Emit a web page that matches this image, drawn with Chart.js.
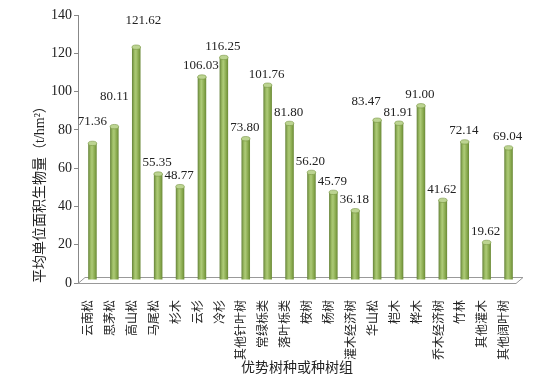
<!DOCTYPE html>
<html>
<head>
<meta charset="utf-8">
<script src="https://cdn.jsdelivr.net/npm/chart.js@4/dist/chart.umd.min.js"></script>
<style>
  body { margin: 0; background: #fff; }
  #wrap { width: 556px; height: 377px; }
</style>
</head>
<body>
<div id="wrap"><canvas id="bioChart" width="556" height="377"></canvas></div>
<script>
// dominant species / groups
const categories = ['云南松', '思茅松', '高山松', '马尾松', '杉木', '云杉', '冷杉', '其他针叶树',
  '常绿栎类', '落叶栎类', '桉树', '杨树', '灌木经济树', '华山松', '桤木', '桦木',
  '乔木经济树', '竹林', '其他灌木', '其他阔叶树'];
// average biomass per unit area (t/hm2)
const biomass = [71.36, 80.11, 121.62, 55.35, 48.77, 106.03, 116.25, 73.80,
  101.76, 81.80, 56.20, 45.79, 36.18, 83.47, 81.91, 91.00, 41.62, 72.14, 19.62, 69.04];
const yTicks = [0, 20, 40, 60, 80, 100, 120, 140];

const serif = '"Liberation Serif", "Noto Sans CJK SC", serif';
const barPct = 0.39;
// 3d depth of the floor, bars sit halfway in
const depth = { dx: 7, dy: -6 };

// a few value labels were moved by hand in the original
const labelNudge = { 0: [1, -11], 1: [1, -19], 2: [8, -16], 13: [-10, -8] };

function barFill(c) {
  const chart = c.chart;
  const xs = chart.scales.x;
  if (!chart.chartArea || !xs) return '#9bbb59';
  const cx = xs.getPixelForValue(c.dataIndex);
  const hw = xs.width / categories.length * barPct / 2;
  const g = chart.ctx.createLinearGradient(cx - hw, 0, cx + hw, 0);
  g.addColorStop(0, '#66833a');
  g.addColorStop(0.3, '#9fbf66');
  g.addColorStop(0.45, '#acc977');
  g.addColorStop(0.75, '#8aab4f');
  g.addColorStop(1, '#6a8937');
  return g;
}

const floor3d = {
  id: 'floor3d',
  beforeDatasetsDraw(chart) {
    const { ctx, chartArea: a } = chart;
    ctx.save();
    ctx.strokeStyle = '#999';
    ctx.lineWidth = 1;
    ctx.beginPath();
    ctx.moveTo(a.left, a.bottom + 0.5);
    ctx.lineTo(a.right, a.bottom + 0.5);
    ctx.lineTo(a.right + depth.dx, a.bottom + depth.dy + 0.5);
    ctx.lineTo(a.left + depth.dx, a.bottom + depth.dy + 0.5);
    ctx.closePath();
    ctx.stroke();
    ctx.restore();
    ctx.save();
    ctx.translate(depth.dx / 2, depth.dy / 2);
  },
  afterDatasetsDraw(chart) {
    const ctx = chart.ctx;
    const meta = chart.getDatasetMeta(0);
    meta.data.forEach((bar, i) => {
      const rx = bar.width / 2;
      // cylinder cap
      ctx.beginPath();
      ctx.ellipse(bar.x, bar.y, rx, 2.2, 0, 0, Math.PI * 2);
      ctx.fillStyle = '#bcd491';
      ctx.fill();
      ctx.strokeStyle = '#76943f';
      ctx.lineWidth = 0.6;
      ctx.stroke();
      // value label
      const n = labelNudge[i] || [0, 0];
      ctx.fillStyle = '#222';
      ctx.font = '13px ' + serif;
      ctx.textAlign = 'center';
      ctx.textBaseline = 'middle';
      ctx.fillText(biomass[i].toFixed(2), bar.x + n[0] - 1, bar.y - 11 + n[1]);
    });
    ctx.restore();
  }
};

const ctx = document.getElementById('bioChart').getContext('2d');
const bioChart = new Chart(ctx, {
  type: 'bar',
  data: {
    labels: categories,
    datasets: [{
      data: biomass,
      backgroundColor: barFill,
      borderWidth: 0,
      barPercentage: barPct,
      categoryPercentage: 1
    }]
  },
  options: {
    responsive: false,
    animation: false,
    devicePixelRatio: 1,
    layout: { padding: { left: 28, right: 40, top: 15, bottom: 0 } },
    plugins: {
      legend: { display: false },
      tooltip: { enabled: false }
    },
    scales: {
      x: {
        grid: { display: false },
        border: { display: false },
        ticks: {
          autoSkip: false,
          minRotation: 90,
          maxRotation: 90,
          padding: 9,
          color: '#222',
          font: { size: 12, family: serif }
        },
        title: {
          display: true,
          text: '优势树种或种树组',
          color: '#222',
          padding: { top: 0, bottom: 0 },
          font: { size: 14, family: serif }
        },
        afterFit(axis) { axis.height = 94; }
      },
      y: {
        min: 0,
        max: 140,
        afterBuildTicks(axis) { axis.ticks = yTicks.map(v => ({ value: v })); },
        grid: { drawOnChartArea: false, drawTicks: true, tickLength: 4, color: '#888' },
        border: { display: true, color: '#888' },
        ticks: {
          padding: 2,
          color: '#222',
          font: { size: 14, family: serif }
        },
        title: {
          display: true,
          text: '平均单位面积生物量（t/hm²）',
          align: 'start',
          color: '#222',
          padding: { top: 4, bottom: 0 },
          font: { size: 14, family: serif }
        },
        afterFit(axis) { axis.width = 50; }
      }
    }
  },
  plugins: [floor3d]
});
</script>
</body>
</html>
